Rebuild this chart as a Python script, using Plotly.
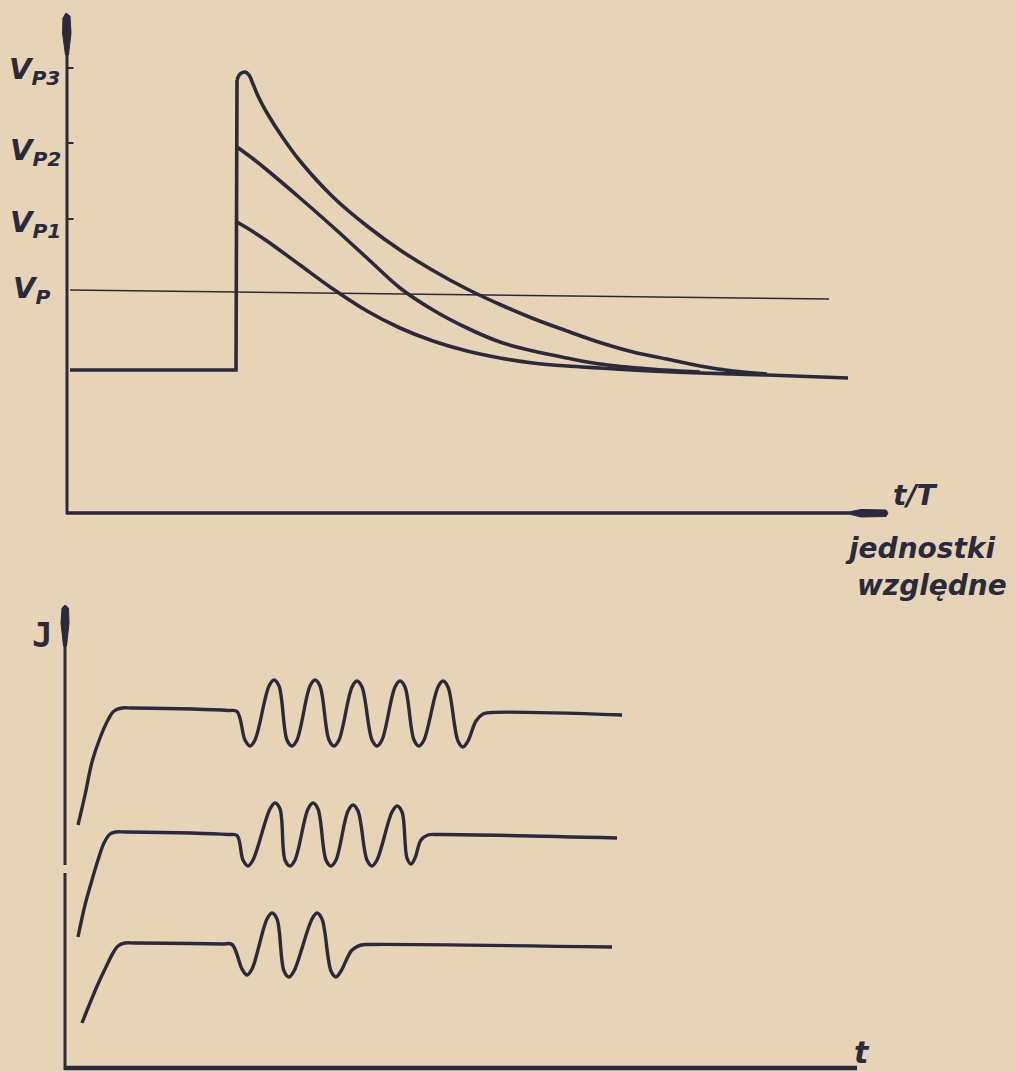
import plotly.graph_objects as go

# ---------------- Top panel: V versus t/T (relative units) ----------------
step_t = [0.04, 1.70, 1.71]
step_v = [1.43, 1.43, 4.33]

vp3_t = [1.71, 1.74, 1.79, 1.83, 1.87, 1.92, 2.01, 2.17, 2.34, 2.67, 3.01, 3.34, 3.67, 4.01, 4.34, 4.67, 5.01, 5.34, 5.67, 6.01, 6.34, 6.67, 7.01]
vp3_v = [4.33, 4.39, 4.41, 4.38, 4.29, 4.17, 4.00, 3.75, 3.52, 3.16, 2.87, 2.63, 2.425, 2.24, 2.085, 1.945, 1.82, 1.705, 1.61, 1.54, 1.47, 1.42, 1.39]

vp2_t = [1.71, 1.86, 2.01, 2.34, 2.67, 3.01, 3.34, 3.67, 4.01, 4.34, 4.67, 5.01, 5.34, 5.84, 6.34]
vp2_v = [3.66, 3.55, 3.43, 3.15, 2.86, 2.55, 2.25, 2.03, 1.85, 1.71, 1.62, 1.55, 1.49, 1.44, 1.41]

vp1_t = [1.71, 1.86, 2.01, 2.34, 2.67, 3.01, 3.34, 3.67, 4.01, 4.34, 4.67, 5.01, 5.34, 5.84, 6.34, 7.01, 7.82]
vp1_v = [2.91, 2.82, 2.72, 2.48, 2.24, 2.02, 1.85, 1.72, 1.62, 1.55, 1.50, 1.47, 1.45, 1.42, 1.40, 1.38, 1.35]

vp_line_t = [0.04, 7.63]
vp_line_v = [2.23, 2.14]

tick_levels = [4.45, 3.70, 2.94, 2.23]
tick_labels = ["V<sub>P3</sub>", "V<sub>P2</sub>", "V<sub>P1</sub>", "V<sub>P</sub>"]
tick_marks = [True, True, True, False]

# ---------------- Bottom panel: J versus t ----------------
j1_t = [0.12, 0.19, 0.26, 0.34, 0.42, 0.48, 0.56, 0.66, 1.62, 1.71,
        1.79, 1.84, 1.89, 2.03, 2.08, 2.13, 2.21, 2.26, 2.31, 2.44, 2.49, 2.54,
        2.63, 2.68, 2.73, 2.86, 2.91, 2.96, 3.06, 3.11, 3.16, 3.29, 3.34, 3.39,
        3.48, 3.53, 3.58, 3.72, 3.77, 3.82, 3.92, 3.97, 4.02,
        4.10, 4.17, 4.26, 5.56]
j1_v = [2.43, 2.73, 3.06, 3.30, 3.48, 3.57, 3.60, 3.60, 3.575, 3.565,
        3.28, 3.22, 3.28, 3.82, 3.88, 3.82, 3.28, 3.22, 3.28, 3.82, 3.88, 3.82,
        3.28, 3.22, 3.28, 3.81, 3.87, 3.81, 3.28, 3.22, 3.28, 3.81, 3.87, 3.81,
        3.28, 3.22, 3.28, 3.81, 3.87, 3.81, 3.27, 3.21, 3.27,
        3.47, 3.54, 3.555, 3.53]

j2_t = [0.12, 0.19, 0.26, 0.32, 0.38, 0.44, 0.50, 0.60, 1.62, 1.71,
        1.77, 1.82, 1.87, 2.04, 2.09, 2.14, 2.19, 2.24, 2.29, 2.42, 2.47, 2.52,
        2.60, 2.65, 2.70, 2.82, 2.87, 2.92, 3.01, 3.06, 3.11, 3.26, 3.31, 3.36,
        3.41, 3.45, 3.49,
        3.55, 3.62, 3.72, 5.51]
j2_v = [1.31, 1.63, 1.88, 2.08, 2.25, 2.34, 2.36, 2.36, 2.335, 2.325,
        2.08, 2.02, 2.08, 2.59, 2.65, 2.59, 2.08, 2.02, 2.08, 2.59, 2.65, 2.59,
        2.08, 2.02, 2.08, 2.57, 2.63, 2.57, 2.08, 2.02, 2.08, 2.56, 2.62, 2.56,
        2.10, 2.04, 2.10,
        2.28, 2.33, 2.335, 2.30]

j3_t = [0.16, 0.24, 0.32, 0.40, 0.47, 0.52, 0.59, 0.69, 1.56, 1.66,
        1.76, 1.81, 1.86, 2.01, 2.06, 2.11, 2.18, 2.23, 2.28, 2.46, 2.51, 2.56,
        2.65, 2.70, 2.75,
        2.86, 2.95, 3.05, 5.46]
j3_v = [0.45, 0.65, 0.84, 1.01, 1.15, 1.22, 1.25, 1.25, 1.24, 1.235,
        0.99, 0.93, 0.99, 1.49, 1.55, 1.49, 0.97, 0.91, 0.97, 1.49, 1.55, 1.49,
        0.97, 0.91, 0.97,
        1.18, 1.23, 1.235, 1.21]

INK = "#2a2a3c"
PAPER = "#e6d4b6"
FONT = "DejaVu Sans"

fig = go.Figure()

def curve(x, y, xa, ya, w=3.6, shape="spline", smooth=0.9):
    fig.add_trace(go.Scatter(x=x, y=y, mode="lines", xaxis=xa, yaxis=ya,
                             line=dict(color=INK, width=w, shape=shape, smoothing=smooth),
                             hoverinfo="skip", showlegend=False))

# top
curve(step_t, step_v, "x", "y", shape="linear")
curve(vp3_t, vp3_v, "x", "y")
curve(vp2_t, vp2_v, "x", "y")
curve(vp1_t, vp1_v, "x", "y")
curve(vp_line_t, vp_line_v, "x", "y", w=1.6, shape="linear")
# bottom
curve(j1_t, j1_v, "x2", "y2", w=3.4, smooth=1.0)
curve(j2_t, j2_v, "x2", "y2", w=3.4, smooth=1.0)
curve(j3_t, j3_v, "x2", "y2", w=3.4, smooth=1.0)

shapes = []
# top axes
shapes.append(dict(type="line", xref="x", yref="y", x0=0.01, y0=-0.01, x1=0.01, y1=4.7, line=dict(color=INK, width=3)))
shapes.append(dict(type="line", xref="x", yref="y", x0=0.0, y0=0.0, x1=7.9, y1=0.0, line=dict(color=INK, width=3.5)))
shapes.append(dict(type="path", xref="x", yref="y",
                   path="M -0.005,4.58 L -0.035,4.80 L -0.03,4.95 L 0.0,5.0 L 0.04,4.97 L 0.05,4.80 L 0.025,4.58 Z",
                   fillcolor=INK, line=dict(color=INK, width=1)))
shapes.append(dict(type="path", xref="x", yref="y",
                   path="M 7.85,-0.015 L 7.95,-0.04 L 8.20,-0.035 L 8.22,0.0 L 8.20,0.03 L 7.95,0.035 L 7.85,0.015 Z",
                   fillcolor=INK, line=dict(color=INK, width=1)))
for lv, mk in zip(tick_levels, tick_marks):
    if mk:
        shapes.append(dict(type="line", xref="x", yref="y", x0=0.01, y0=lv, x1=0.075, y1=lv, line=dict(color=INK, width=2)))
# bottom axes (small break in the printed y axis)
shapes.append(dict(type="line", xref="x2", yref="y2", x0=-0.01, y0=-0.02, x1=-0.01, y1=1.95, line=dict(color=INK, width=3)))
shapes.append(dict(type="line", xref="x2", yref="y2", x0=-0.01, y0=2.03, x1=-0.01, y1=4.35, line=dict(color=INK, width=3)))
shapes.append(dict(type="line", xref="x2", yref="y2", x0=-0.02, y0=0.0, x1=7.91, y1=0.0, line=dict(color=INK, width=4.5)))
shapes.append(dict(type="path", xref="x2", yref="y2",
                   path="M -0.025,4.22 L -0.05,4.45 L -0.04,4.60 L -0.01,4.63 L 0.025,4.60 L 0.03,4.45 L 0.005,4.22 Z",
                   fillcolor=INK, line=dict(color=INK, width=1)))

ann = []
lab_x = [-0.32, -0.31, -0.31, -0.35]
lab_dy = [-0.03, -0.09, -0.05, 0.0]
for lv, lab, lx, dy in zip(tick_levels, tick_labels, lab_x, lab_dy):
    ann.append(dict(x=lx, y=lv + dy, xref="x", yref="y", text="<b><i>" + lab + "</i></b>", showarrow=False,
                    font=dict(family=FONT, size=29, color=INK), xanchor="center", yanchor="middle"))
ann.append(dict(x=8.49, y=0.18, xref="x", yref="y", text="<b><i>t/T</i></b>", showarrow=False,
                font=dict(family=FONT, size=28, color=INK)))
ann.append(dict(x=8.54, y=-0.35, xref="x", yref="y", text="<b><i>jednostki</i></b>", showarrow=False,
                font=dict(family=FONT, size=28, color=INK)))
ann.append(dict(x=8.66, y=-0.72, xref="x", yref="y", text="<b><i>względne</i></b>", showarrow=False,
                font=dict(family=FONT, size=28, color=INK)))
ann.append(dict(x=-0.24, y=4.33, xref="x2", yref="y2", text="<b>J</b>", showarrow=False,
                font=dict(family="DejaVu Sans Mono", size=34, color=INK)))
ann.append(dict(x=7.96, y=0.16, xref="x2", yref="y2", text="<b><i>t</i></b>", showarrow=False,
                font=dict(family=FONT, size=30, color=INK)))

hidden = dict(visible=False, fixedrange=True)
fig.update_layout(
    width=1016, height=1072,
    margin=dict(l=0, r=0, t=0, b=0),
    paper_bgcolor=PAPER, plot_bgcolor=PAPER,
    xaxis=dict(range=[-0.66, 9.50], domain=[0, 1], **hidden),
    yaxis=dict(range=[-5.59, 5.13], domain=[0, 1], **hidden),
    xaxis2=dict(range=[-0.66, 9.50], domain=[0, 1], overlaying="x", **hidden),
    yaxis2=dict(range=[-0.04, 10.68], domain=[0, 1], overlaying="y", anchor="x2", **hidden),
    shapes=shapes, annotations=ann,
)

fig.write_html("out.html", config={"displayModeBar": False},
               post_script="document.body.style.margin='0';document.body.style.background='%s';" % PAPER)
